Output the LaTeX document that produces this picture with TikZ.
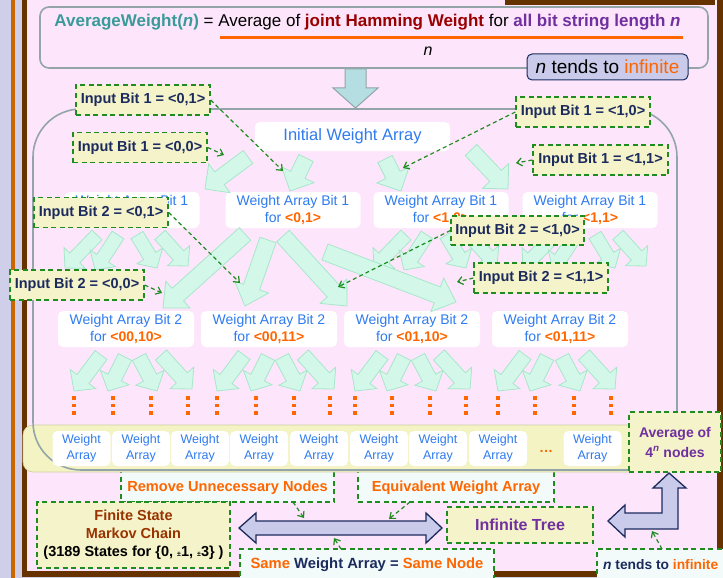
\documentclass[tikz,border=0pt]{standalone}
\usepackage{fontspec}
\setmainfont{Liberation Sans}
\usetikzlibrary{calc,arrows.meta}
\definecolor{bgpink}{HTML}{FDE6FB}
\definecolor{lav}{HTML}{CFCFEA}
\definecolor{brn}{HTML}{663300}
\definecolor{orn}{HTML}{FF6600}
\definecolor{orline}{HTML}{CC6600}
\definecolor{wblue}{HTML}{2F7BF0}
\definecolor{navy}{HTML}{1C2B5E}
\definecolor{dgreen}{HTML}{1E8C1E}
\definecolor{inyel}{HTML}{F5F3C9}
\definecolor{stripyel}{HTML}{F4F3C4}
\definecolor{mint}{HTML}{D3F8EA}
\definecolor{mintline}{HTML}{A8E6CA}
\definecolor{lavarrow}{HTML}{CACAEA}
\definecolor{cgray}{HTML}{93A5A8}
\definecolor{teal1}{HTML}{3A9A9A}
\definecolor{dred}{HTML}{990000}
\definecolor{purp}{HTML}{7030A0}
\definecolor{mbrown}{HTML}{993300}
\definecolor{paleb}{HTML}{F2FBFA}
\definecolor{downar}{HTML}{B4DEE2}
\newcommand\fatarr[6][mintarrow]{%
 \draw[#1] ($(#2)!#4!90:(#3)$) -- ($(#3)!#6!(#2)!#4!-90:(#2)$) -- ($(#3)!#6!(#2)!#5!-90:(#2)$) -- (#3) -- ($(#3)!#6!(#2)!#5!90:(#2)$) -- ($(#3)!#6!(#2)!#4!90:(#2)$) -- ($(#2)!#4!-90:(#3)$) -- cycle;}
\tikzset{
 mintarrow/.style={fill=mint, draw=mintline, line width=0.8pt, line join=miter},
 wbox/.style={fill=white, rounded corners=5pt, align=center, text=wblue, inner sep=0pt,
   font=\fontsize{14}{17.5}\selectfont, minimum width=135pt, minimum height=36pt},
 sbox/.style={fill=white, rounded corners=5pt, align=center, text=wblue, inner sep=0pt,
   font=\fontsize{12.5}{16.5}\selectfont, minimum width=58pt, minimum height=35pt},
 dbox/.style={draw=dgreen, dash pattern=on 5pt off 3.5pt, line width=1.3pt, inner sep=0pt, align=center},
 inbox/.style={dbox, fill=inyel, text=navy, font=\bfseries\fontsize{14.5}{17}\selectfont,
   minimum width=134pt, minimum height=30pt},
 dar/.style={draw=dgreen, dash pattern=on 4pt off 3pt, line width=1.2pt,
   -{Straight Barb[length=5pt,width=8pt]}},
 ortxt/.style={text=orn, font=\bfseries\fontsize{14.6}{17}\selectfont, inner sep=0pt},
 lavarr/.style={fill=lavarrow, draw=navy, line width=1.3pt, line join=miter},
}
\begin{document}
\begin{tikzpicture}[x=1pt,y=-1pt]
\useasboundingbox (0,0) rectangle (723,578);
% background frame
\fill[lav] (0,0) rectangle (723,578);
\fill[orline] (11,0) rectangle (15,578);
\fill[brn] (22,0) rectangle (723,577);
\fill[bgpink] (27,0) rectangle (717,571);
\fill[brn] (505,0) rectangle (715,5);
% formula box
\draw[cgray, line width=1.6pt, rounded corners=9pt] (40,7) rectangle (708,68);
\node[font=\fontsize{17}{19}\selectfont, inner sep=0pt] (formula) at (367.5,22)
 {\textcolor{teal1}{\textbf{AverageWeight(\textit{n})}} = Average of \textcolor{dred}{\textbf{joint Hamming Weight}} for \textcolor{purp}{\textbf{all bit string length \textit{n}}}};
\draw[orn, line width=3pt] (220,37.5) -- (683,37.5);
\node[font=\itshape\fontsize{16}{18}\selectfont, inner sep=0pt] (nden) at (428,51) {n};
\node[fill=lavarrow, draw=navy, line width=1pt, rounded corners=5pt, minimum width=161pt, minimum height=26pt, inner sep=0pt, font=\fontsize{19}{21}\selectfont] (ninf) at (607.5,67) {\textit{n} tends to \textcolor{orn}{infinite}};
% big down arrow
\draw[fill=downar, draw=cgray, line width=1pt] (345,69) -- (366,69) -- (366,88) -- (378,88) -- (355.5,108) -- (333,88) -- (345,88) -- cycle;
% boxes partly under the strip
\node[dbox, fill=paleb, minimum width=213pt, minimum height=42pt] (rem) at (227.5,481) {};
\node[ortxt] (remt) at (227.5,487.5) {Remove Unnecessary Nodes};
\node[dbox, fill=paleb, minimum width=196pt, minimum height=42pt] (eqv) at (456,481) {};
\node[ortxt] (eqvt) at (456,487.5) {Equivalent Weight Array};
% bottom strip and container
\draw[fill=stripyel, draw=stripyel!85!black, line width=0.6pt, rounded corners=10pt] (23,425) rectangle (640,472);
\draw[cgray, line width=1.6pt, rounded corners=48pt] (33,109) rectangle (677,470);
% tree nodes
\node[wbox, minimum width=195pt, minimum height=29pt, font=\fontsize{16.5}{18}\selectfont] (init) at (352.5,136.5) {Initial Weight Array};
\node[wbox] (l1a) at (132,210) {Weight Array Bit 1\\for \textcolor{orn}{\textbf{<0,0>}}};
\node[wbox] (l1b) at (293,210) {Weight Array Bit 1\\for \textcolor{orn}{\textbf{<0,1>}}};
\node[wbox] (l1c) at (441,210) {Weight Array Bit 1\\for \textcolor{orn}{\textbf{<1,0>}}};
\node[wbox] (l1d) at (590,210) {Weight Array Bit 1\\for \textcolor{orn}{\textbf{<1,1>}}};
\node[wbox, minimum width=136pt] (l2a) at (126,329) {Weight Array Bit 2\\for \textcolor{orn}{\textbf{<00,10>}}};
\node[wbox, minimum width=136pt] (l2b) at (269,329) {Weight Array Bit 2\\for \textcolor{orn}{\textbf{<00,11>}}};
\node[wbox, minimum width=136pt] (l2c) at (412,329) {Weight Array Bit 2\\for \textcolor{orn}{\textbf{<01,10>}}};
\node[wbox, minimum width=136pt] (l2d) at (560,329) {Weight Array Bit 2\\for \textcolor{orn}{\textbf{<01,11>}}};
% arrows level 0 -> 1
\fatarr{248,157}{205,189}{8pt}{18pt}{18pt}
\fatarr{306,158}{290,191}{8pt}{18pt}{18pt}
\fatarr{385,159}{401,191}{8pt}{18pt}{18pt}
\fatarr{471,150}{508,189}{8pt}{18pt}{18pt}
% small arrows level 1 -> 2
\foreach \c in {132,441,590}{
 \fatarr{\c-35,235}{\c-67,268}{7pt}{15pt}{14pt}
 \fatarr{\c-14,235}{\c-37,270}{7pt}{15pt}{14pt}
 \fatarr{\c+5,235}{\c+25,268}{7pt}{15pt}{14pt}
 \fatarr{\c+28,235}{\c+56,266}{7pt}{15pt}{14pt}
}
% long arrows from <0,1>
\fatarr{245,234}{163,308}{8.5pt}{18pt}{20pt}
\fatarr{268,240}{245,306}{8.5pt}{18pt}{20pt}
\fatarr{283,236}{347,306}{8.5pt}{18pt}{20pt}
\fatarr{325,252}{456,302}{8.5pt}{18pt}{20pt}
% small arrows level 2 -> 3 and dots
\foreach \p/\q/\r/\s in {74/113/151/188,217/256/294/330,355/392/430/466,498/535/574/611}{
 \fatarr{\p+27,355}{\p,391}{7.5pt}{16pt}{15pt}
 \fatarr{\q+12,357}{\q-5,391}{7.5pt}{16pt}{15pt}
 \fatarr{\r-12,357}{\r+6,391}{7.5pt}{16pt}{15pt}
 \fatarr{\s-27,355}{\s+4,389}{7.5pt}{16pt}{15pt}
 \foreach \d in {\p,\q,\r,\s}{
  \foreach \yy in {398,405.5,413}{\fill[orn] (\d-1.6,\yy-1.6) rectangle ++(3.2,3.2);}
 }
}
% strip boxes
\foreach \x [count=\i] in {81.5,141,200,259,319,379,438,498,592.5}{
 \node[sbox] (wa\i) at (\x,448.5) {Weight\\Array};
}
\node[text=orn, font=\bfseries\fontsize{14}{16}\selectfont, inner sep=0pt] (ell) at (546,451) {\dots};
% input boxes
\node[inbox] (ib1a) at (143,100) {Input Bit 1 = <0,1>};
\node[inbox] (ib1b) at (140,147.5) {Input Bit 1 = <0,0>};
\node[inbox] (ib1c) at (583,112) {Input Bit 1 = <1,0>};
\node[inbox, minimum width=135pt] (ib1d) at (600.5,160) {Input Bit 1 = <1,1>};
\node[inbox] (ib2a) at (101,212.5) {Input Bit 2 = <0,1>};
\node[inbox] (ib2b) at (77,285) {Input Bit 2 = <0,0>};
\node[inbox, minimum width=133pt, minimum height=29pt] (ib2c) at (517.5,230.5) {Input Bit 2 = <1,0>};
\node[inbox] (ib2d) at (541,278) {Input Bit 2 = <1,1>};
\coordinate (t1a) at (283,171);
\coordinate (t1b) at (224,155);
\coordinate (t1c) at (403,168);
\coordinate (t1d) at (516,163);
\coordinate (t2a) at (240,283);
\coordinate (t2b) at (162,293);
\coordinate (t2c) at (338,287);
\coordinate (t2d) at (457,282);
\draw[dar] (ib1a.east) -- (t1a);
\draw[dar] (ib1b.east) -- (t1b);
\draw[dar] (ib1c.west) -- (t1c);
\draw[dar] (ib1d.west) -- (t1d);
\draw[dar] (ib2a.east) -- (t2a);
\draw[dar] (ib2b.east) -- (t2b);
\draw[dar] (ib2c.west) -- (t2c);
\draw[dar] (ib2d.west) -- (t2d);
% average box
\node[dbox, fill=inyel, minimum width=92pt, minimum height=60pt, text=purp, font=\bfseries\fontsize{14}{20}\selectfont] (avg) at (675,442) {Average of\\4\textsuperscript{\textit{n}} nodes};
% bottom section
\node[dbox, fill=inyel, minimum width=193pt, minimum height=66pt, font=\bfseries\fontsize{14.5}{18}\selectfont] (fsm) at (133.5,535) {\textcolor{mbrown}{Finite State}\\\textcolor{mbrown}{Markov Chain}\\(3189 States for \{0, {\scriptsize±}1, {\scriptsize±}3\} )};
\node[dbox, fill=inyel, minimum width=146pt, minimum height=36pt, text=purp, font=\bfseries\fontsize{16}{18}\selectfont] (inft) at (520,525) {Infinite Tree};
\draw[lavarr] (239,528) -- (256,513) -- (256,521) -- (426,521) -- (426,513) -- (442,528) -- (426,543) -- (426,535) -- (256,535) -- (256,543) -- cycle;
\draw[lavarr] (669,473) -- (686,488) -- (678,488) -- (678,529) -- (625,529) -- (625,537) -- (608,521) -- (625,505) -- (625,513) -- (662,513) -- (662,488) -- (653,488) -- cycle;
\node[dbox, fill=paleb, minimum width=254pt, minimum height=40pt] (same) at (367,569) {};
\node[font=\bfseries\fontsize{14.8}{17}\selectfont, inner sep=0pt] (samet) at (367,565) {\textcolor{orn}{Same} \textcolor{navy}{Weight Array =} \textcolor{orn}{Same Node}};
\node[dbox, fill=paleb, minimum width=140pt, minimum height=40pt] (ntb) at (667,569) {};
\node[font=\bfseries\fontsize{13.8}{16}\selectfont, inner sep=0pt, anchor=west] (ntbt) at (603,565) {\textcolor{navy}{\textit{n} tends to} \textcolor{orn}{infinite}};
\coordinate (s1) at (293,502);
\coordinate (s2) at (410,502);
\coordinate (s3) at (341,549);
\coordinate (s4) at (662,549);
\coordinate (d1) at (304,518);
\coordinate (d2) at (389,519);
\coordinate (d3) at (334,538);
\coordinate (d4) at (652,531);
\draw[dar] (s1) -- (d1);
\draw[dar] (s2) -- (d2);
\draw[dar] (s3) -- (d3);
\draw[dar] (s4) -- (d4);
\end{tikzpicture}
\end{document}
